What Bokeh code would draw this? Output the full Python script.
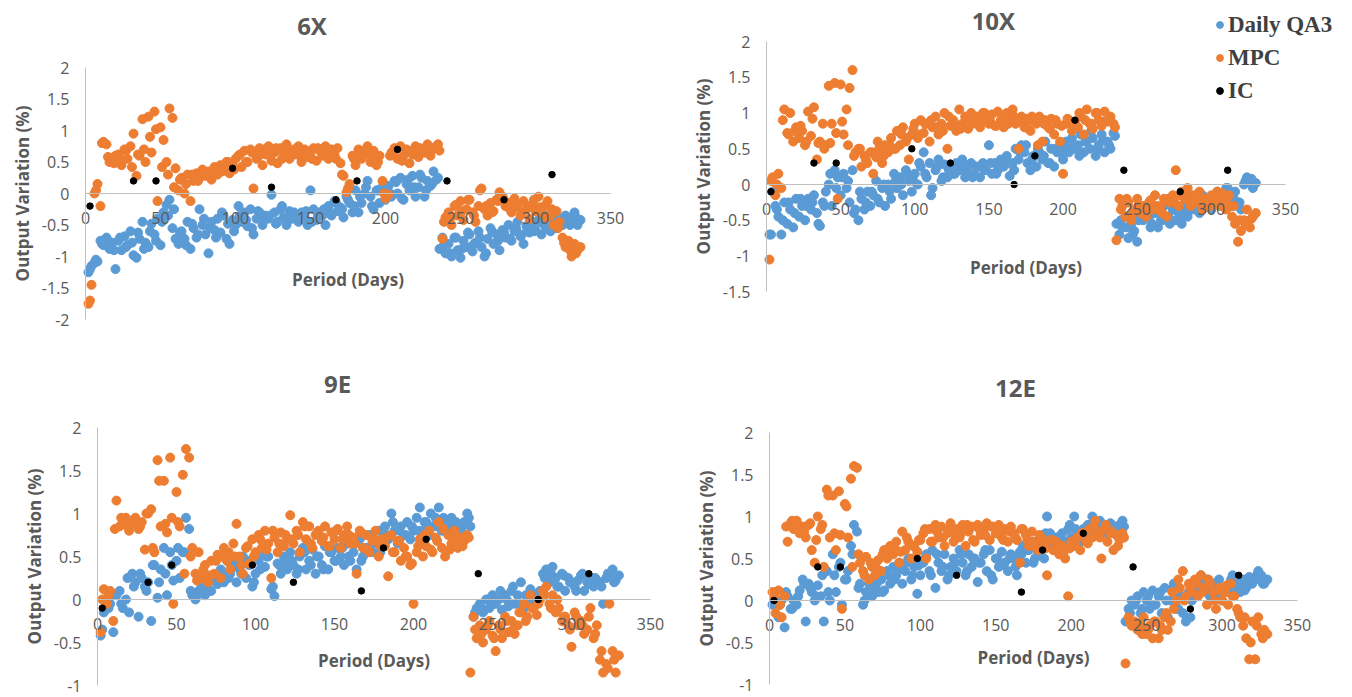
from bokeh.plotting import figure
from bokeh.models import Range1d, FixedTicker, PrintfTickFormatter, Label, Legend, LegendItem
from bokeh.layouts import row, column
from bokeh.embed import file_html
from bokeh.resources import INLINE

# ---------------- data ----------------
days = [
    2, 4, 6, 8, 10, 12, 14, 16, 18, 20,
    22, 24, 26, 28, 30, 32, 34, 36, 38, 40,
    42, 44, 46, 48, 50, 52, 54, 56, 58, 60,
    62, 64, 66, 68, 70, 72, 74, 76, 78, 80,
    82, 84, 86, 88, 90, 92, 94, 96, 98, 100,
    102, 104, 106, 108, 110, 112, 114, 116, 118, 120,
    122, 124, 126, 128, 130, 132, 134, 136, 138, 140,
    142, 144, 146, 148, 150, 152, 154, 156, 158, 160,
    162, 164, 166, 168, 170, 172, 174, 176, 178, 180,
    182, 184, 186, 188, 190, 192, 194, 196, 198, 200,
    202, 204, 206, 208, 210, 212, 214, 216, 218, 220,
    222, 224, 226, 228, 230, 232, 234, 236, 238, 240,
    242, 244, 246, 248, 250, 252, 254, 256, 258, 260,
    262, 264, 266, 268, 270, 272, 274, 276, 278, 280,
    282, 284, 286, 288, 290, 292, 294, 296, 298, 300,
    302, 304, 306, 308, 310, 312, 314, 316, 318, 320,
    322, 324, 326, 328, 330]

# second reading on the days in between
days_b = [
    3, 7, 11, 15, 19, 23, 27, 31, 35, 39,
    43, 47, 51, 55, 59, 63, 67, 71, 75, 79,
    83, 87, 91, 95, 99, 103, 107, 111, 115, 119,
    123, 127, 131, 135, 139, 143, 147, 151, 155, 159,
    163, 167, 171, 175, 179, 183, 187, 191, 195, 199,
    203, 207, 211, 215, 219, 223, 227, 231, 235, 239,
    243, 247, 251, 255, 259, 263, 267, 271, 275, 279,
    283, 287, 291, 295, 299, 303, 307, 311, 315, 319,
    323, 327]

ic_days = [3, 32, 47, 98, 124, 167, 181, 208, 241, 279, 311]

# ---- 6X ----
qa3_6x = [
    -1.25, -1.15, -1.1, -1.08, -0.75, -0.82, -0.7, -0.88, -0.78, -1.2,
    -0.75, -0.9, -0.68, -0.82, -0.6, -0.98, -1.02, -0.72, -0.45, -0.78,
    -0.85, -0.48, -0.65, -0.4, -0.82, -0.3, -0.18, -0.1, -0.55, -0.72,
    -0.8, -0.6, -0.72, -0.45, -0.88, -0.55, -0.7, -0.25, -0.5, -0.65,
    -0.95, -0.45, -0.58, -0.4, -0.62, -0.35, -0.72, -0.8, -0.42, -0.5,
    -0.2, -0.45, -0.3, -0.52, -0.25, -0.65, -0.4, -0.3, -0.5, -0.35,
    -0.4, -0.02, -0.3, -0.45, -0.25, -0.38, -0.5, -0.28, -0.4, -0.33,
    -0.45, -0.3, -0.38, -0.5, 0.05, -0.25, -0.42, -0.3, -0.35, -0.5,
    -0.2, -0.35, -0.12, -0.28, -0.22, -0.38, -0.05, -0.15, -0.3, 0.05,
    -0.3, -0.15, 0.0, 0.2, -0.05, -0.25, 0.05, -0.15, 0.1, -0.1,
    0.12, -0.05, 0.2, 0.0, 0.25, -0.1, 0.15, 0.05, 0.28, -0.05,
    0.1, 0.25, -0.05, 0.2, 0.12, 0.35, 0.22, -0.88, -0.7, -0.95,
    -0.8, -1.0, -0.7, -0.9, -1.02, -0.75, -0.85, -0.65, -0.92, -0.78,
    -0.6, -0.85, -1.0, -0.72, -0.55, -0.8, -0.65, -0.9, -0.58, -0.7,
    -0.5, -0.75, -0.6, -0.45, -0.68, -0.8, -0.52, -0.62, -0.45, -0.58,
    -0.42, -0.65, -0.5, -0.35, -0.6, -0.45, -0.55, -0.4, -0.5, -0.35,
    -0.45, -0.4, -0.3, -0.5, -0.42]
qa3_6x_b = [
    -1.2, -1.05, -0.8, -0.75, -0.9, -0.7, -0.85, -0.78, -0.62, -0.88,
    -0.6, -0.75, -0.45, -0.35, -0.25, -0.62, -0.82, -0.48, -0.65, -0.4,
    -0.55, -0.7, -0.3, -0.48, -0.6, -0.35, -0.42, -0.55, -0.28, -0.38,
    -0.35, -0.48, -0.2, -0.42, -0.3, -0.4, -0.28, -0.45, -0.35, -0.25,
    -0.3, -0.15, -0.25, -0.1, -0.2, -0.05, 0.1, -0.2, 0.05, 0.15,
    0.0, 0.18, -0.08, 0.22, 0.1, 0.3, 0.05, 0.15, 0.25, -0.82,
    -0.95, -0.7, -0.88, -0.62, -0.8, -0.7, -0.95, -0.6, -0.75, -0.62,
    -0.72, -0.55, -0.65, -0.5, -0.6, -0.45, -0.55, -0.4, -0.48, -0.42,
    -0.5, -0.38]

mpc_6x = [
    -1.75, -1.45, 0.0, 0.15, -0.2, 0.82, 0.78, 0.5, 0.55, 0.6,
    0.62, 0.45, 0.7, 0.55, 0.75, 0.95, 0.28, 0.6, 1.18, 0.5,
    1.22, 0.65, 1.3, -0.12, 1.05, 0.85, 0.5, 1.35, 1.2, 0.4,
    0.05, 0.25, 0.0, 0.3, -0.12, 0.2, 0.32, 0.25, 0.38, 0.28,
    0.35, 0.22, 0.42, 0.3, 0.45, 0.38, 0.5, 0.32, 0.45, 0.55,
    0.6, 0.42, 0.68, 0.5, 0.7, 0.08, 0.55, 0.72, 0.45, 0.62,
    0.75, 0.52, 0.65, 0.48, 0.72, 0.6, 0.78, 0.55, 0.68, 0.62,
    0.75, 0.5, 0.7, 0.58, 0.65, 0.72, 0.52, 0.68, 0.6, 0.75,
    0.55, 0.7, 0.62, 0.72, 0.48, 0.28, 0.02, 0.15, 0.6, 0.45,
    0.7, 0.55, 0.62, 0.75, 0.5, 0.68, 0.45, 0.6, 0.2, -0.08,
    -0.02, 0.65, 0.72, 0.55, 0.75, 0.6, 0.7, 0.48, 0.62, 0.75,
    0.58, 0.7, 0.65, 0.78, 0.6, 0.72, 0.75, 0.68, -0.72, -0.38,
    -0.3, -0.5, -0.2, -0.35, -0.12, -0.42, -0.25, -0.1, -0.3, -0.45,
    -0.2, 0.08, -0.25, -0.35, -0.15, -0.28, -0.1, 0.02, -0.05, -0.2,
    -0.15, -0.3, -0.08, -0.22, -0.35, -0.12, -0.25, -0.4, -0.18, -0.28,
    -0.05, -0.3, -0.2, -0.12, -0.35, -0.5, -0.28, -0.45, -0.7, -0.85,
    -0.75, -1.0, -0.8, -0.9, -0.85]
mpc_6x_b = [
    -1.7, 0.05, 0.8, 0.58, 0.48, 0.55, 0.68, 0.42, 0.62, 0.7,
    0.9, 1.02, 0.42, 0.3, 0.1, 0.22, 0.15, 0.3, 0.2, 0.35,
    0.28, 0.4, 0.35, 0.5, 0.38, 0.62, 0.5, 0.65, 0.58, 0.7,
    0.6, 0.72, 0.55, 0.65, 0.7, 0.6, 0.68, 0.55, 0.72, 0.62,
    0.65, 0.55, 0.3, 0.08, 0.55, 0.62, 0.7, 0.58, 0.5, 0.0,
    0.6, 0.7, 0.52, 0.68, 0.62, 0.72, 0.65, 0.7, 0.78, -0.45,
    -0.4, -0.18, -0.28, -0.1, -0.35, 0.05, -0.2, -0.3, -0.12, -0.1,
    -0.25, -0.15, -0.3, -0.2, -0.1, -0.22, -0.38, -0.25, -0.55, -0.78,
    -0.9, -0.95]

ic_6x = [-0.2, 0.2, 0.2, 0.4, 0.1, -0.1, 0.2, 0.7, 0.2, -0.1, 0.3]

# ---- 10X ----
qa3_10x = [
    -0.7, -0.1, -0.3, -0.45, -0.7, -0.25, -0.55, -0.35, -0.6, -0.2,
    -0.45, -0.3, -0.5, -0.2, -0.35, -0.15, -0.4, -0.58, -0.25, -0.1,
    0.0, -0.3, 0.2, 0.1, -0.15, 0.15, -0.05, -0.25, 0.2, -0.35,
    -0.5, -0.2, -0.35, -0.1, -0.3, -0.15, 0.05, -0.25, -0.05, -0.3,
    0.0, -0.2, 0.15, -0.05, 0.1, -0.15, 0.2, 0.05, -0.1, 0.15,
    0.0, 0.25, 0.45, 0.1, 0.3, -0.05, 0.2, 0.35, 0.05, 0.28,
    0.1, 0.25, 0.15, 0.3, 0.2, 0.35, 0.1, 0.25, 0.3, 0.15,
    0.25, 0.1, 0.3, 0.2, 0.55, 0.15, 0.3, 0.2, 0.35, 0.25,
    0.4, 0.12, 0.3, 0.5, 0.35, 0.55, 0.45, 0.3, 0.2, 0.4,
    0.25, 0.45, 0.35, 0.6, 0.3, 0.5, 0.25, 0.45, 0.55, 0.35,
    0.6, 0.45, 0.65, 0.5, 0.55, 0.7, 0.45, 0.6, 0.5, 0.65,
    0.4, 0.55, 0.7, 0.45, 0.6, 0.5, 0.72, -0.55, -0.7, -0.6,
    -0.45, -0.75, -0.55, -0.65, -0.8, -0.4, -0.5, -0.35, -0.45, -0.55,
    -0.4, -0.6, -0.5, -0.3, -0.45, -0.55, -0.35, -0.5, -0.4, -0.55,
    -0.3, -0.45, -0.2, -0.35, -0.25, -0.4, -0.15, -0.3, -0.2, -0.35,
    -0.25, -0.1, -0.3, -0.2, -0.05, -0.15, -0.3, -0.1, -0.25, -0.35,
    0.0, 0.1, 0.05, -0.05, 0.02]
qa3_10x_b = [
    -0.7, -0.35, -0.5, -0.25, -0.4, -0.2, -0.3, -0.25, -0.55, -0.3,
    0.15, -0.05, 0.1, 0.05, -0.4, -0.1, -0.25, -0.1, -0.2, 0.0,
    -0.1, 0.05, 0.0, 0.15, 0.05, 0.3, 0.15, -0.15, 0.25, 0.1,
    0.2, 0.15, 0.3, 0.2, 0.1, 0.25, 0.2, 0.3, 0.15, 0.3,
    0.3, 0.2, 0.45, 0.55, 0.35, 0.5, 0.4, 0.3, 0.5, 0.45,
    0.5, 0.55, 0.4, 0.6, 0.75, 0.5, 0.62, 0.55, 0.68, -0.5,
    -0.6, -0.7, -0.5, -0.45, -0.6, -0.35, -0.5, -0.45, -0.35, -0.5,
    -0.4, -0.25, -0.35, -0.2, -0.3, -0.15, -0.25, -0.05, -0.2, -0.25,
    0.05, 0.08]

mpc_10x = [
    -1.05, 0.1, -0.15, 0.15, -0.05, 1.05, 0.72, 1.0, 0.6, 0.8,
    0.65, 0.75, 0.55, 1.02, 0.68, 1.08, 0.35, 0.6, 0.85, 0.55,
    1.38, 0.85, 1.42, -0.2, 1.4, 0.7, 1.05, 1.35, 1.6, 0.45,
    0.5, 0.25, 0.4, 0.3, 0.45, 0.15, 0.38, 0.5, 0.3, 0.55,
    0.45, 0.65, 0.5, 0.75, 0.55, 0.8, 0.6, 0.35, 0.7, 0.85,
    0.65, 0.9, 0.72, 0.85, 0.6, 0.8, 0.95, 0.7, 0.85, 1.0,
    0.5, 0.82, 0.9, 0.75, 1.05, 0.85, 0.95, 0.78, 1.0, 0.88,
    0.95, 0.8, 1.0, 0.9, 0.85, 0.98, 0.82, 1.02, 0.9, 0.8,
    1.0, 0.9, 1.05, 0.85, 0.5, 0.95, 0.8, 0.92, 0.75, 0.88,
    0.85, 0.95, 0.6, 0.9, 0.8, 0.92, 0.7, 0.85, 0.6, 0.15,
    0.85, 0.9, 0.75, 0.88, 0.8, 0.95, 0.7, 1.05, 0.85, 0.78,
    1.0, 0.9, 0.82, 1.02, 0.88, 0.95, 0.85, -0.78, -0.2, -0.3,
    -0.45, -0.25, -0.5, -0.35, -0.2, -0.4, -0.3, -0.45, -0.25, -0.35,
    -0.15, -0.35, -0.3, -0.2, -0.45, -0.25, -0.15, 0.2, -0.3, -0.1,
    -0.2, -0.05, -0.3, -0.15, -0.25, -0.1, -0.35, -0.2, -0.3, -0.15,
    -0.25, -0.1, -0.3, -0.2, -0.35, -0.15, -0.45, -0.55, -0.8, -0.65,
    -0.5, -0.35, -0.6, -0.45, -0.4]
mpc_10x_b = [
    0.05, 0.0, 0.9, 0.7, 0.75, 0.82, 0.6, 0.92, 0.58, 0.5,
    0.58, 0.72, 0.88, 0.55, 0.4, 0.5, 0.35, 0.45, 0.6, 0.4,
    0.55, 0.5, 0.7, 0.65, 0.78, 0.7, 0.85, 0.9, 0.8, 0.75,
    0.95, 0.85, 0.78, 0.92, 0.85, 0.9, 1.0, 0.88, 0.82, 0.95,
    0.85, 0.95, 0.88, 0.8, 0.95, 0.55, 0.85, 0.78, 0.9, 0.82,
    0.92, 0.8, 1.0, 0.9, 0.85, 1.0, 0.88, 0.92, 0.8, -0.35,
    -0.2, -0.4, -0.3, -0.38, -0.22, -0.3, -0.4, -0.2, -0.25, -0.15,
    -0.1, -0.25, -0.15, -0.22, -0.3, -0.2, -0.12, -0.28, -0.3, -0.5,
    -0.55, -0.48]

ic_10x = [-0.1, 0.3, 0.3, 0.5, 0.3, 0.0, 0.4, 0.9, 0.2, -0.1, 0.2]

# ---- 9E ----
qa3_9e = [
    -0.42, -0.15, 0.0, -0.05, -0.38, 0.05, 0.1, -0.1, 0.0, -0.15,
    0.3, 0.2, -0.2, 0.25, 0.15, 0.2, -0.25, 0.4, 0.02, 0.35,
    0.6, 0.05, 0.55, 0.22, 0.45, 0.25, 0.55, 0.95, 0.82, 0.05,
    0.0, 0.1, 0.15, 0.05, 0.2, 0.1, 0.25, 0.18, 0.35, 0.2,
    0.45, 0.3, 0.4, 0.2, 0.35, 0.5, 0.25, 0.4, 0.15, 0.3,
    0.45, 0.55, 0.38, 0.5, 0.12, 0.04, 0.42, 0.3, 0.5, 0.35,
    0.55, 0.4, 0.3, 0.5, 0.6, 0.35, 0.45, 0.58, 0.3, 0.5,
    0.4, 0.62, 0.35, 0.55, 0.45, 0.6, 0.5, 0.4, 0.65, 0.45,
    0.55, 0.35, 0.7, 0.5, 0.6, 0.75, 0.55, 0.65, 0.8, 0.6,
    0.85, 0.7, 1.0, 0.8, 0.65, 0.85, 0.75, 0.9, 0.7, 0.8,
    0.95, 1.07, 0.8, 0.9, 0.75, 0.85, 0.95, 1.07, 0.8, 0.9,
    0.85, 0.95, 0.75, 0.88, 0.8, 0.9, 1.0, 0.85, -0.2, -0.1,
    -0.05, -0.15, 0.0, -0.1, 0.05, -0.05, 0.0, -0.12, 0.05, -0.08,
    0.1, -0.05, 0.05, 0.2, -0.1, 0.0, 0.12, -0.05, 0.05, 0.1,
    0.3, 0.35, 0.2, 0.38, 0.25, 0.15, 0.3, 0.1, 0.25, 0.2,
    0.15, 0.22, 0.28, 0.1, 0.2, 0.25, 0.15, 0.22, 0.2, -0.05,
    0.25, 0.3, 0.35, 0.22, 0.28]
qa3_9e_b = [
    -0.35, -0.1, 0.05, -0.05, 0.25, 0.15, 0.3, 0.1, 0.4, 0.2,
    0.3, 0.4, 0.6, 0.55, 0.1, 0.05, 0.15, 0.1, 0.2, 0.3,
    0.25, 0.4, 0.3, 0.45, 0.2, 0.35, 0.5, 0.15, 0.4, 0.45,
    0.45, 0.35, 0.55, 0.4, 0.5, 0.35, 0.55, 0.45, 0.6, 0.5,
    0.65, 0.45, 0.6, 0.7, 0.55, 0.75, 0.9, 0.8, 0.75, 0.85,
    0.8, 0.9, 1.0, 0.85, 0.95, 0.8, 0.9, 0.85, 0.95, -0.15,
    -0.1, 0.0, -0.05, 0.1, 0.0, 0.15, -0.05, 0.05, 0.0, 0.05,
    0.25, 0.3, 0.15, 0.28, 0.2, 0.1, 0.3, 0.18, 0.25, 0.15,
    0.3, 0.2]

mpc_9e = [
    -0.38, 0.12, -0.05, 0.1, -0.25, 1.15, 0.85, 0.9, 0.95, 0.8,
    0.88, 0.95, 0.82, 0.9, 0.58, 1.0, 1.05, 0.55, 1.62, 0.85,
    1.38, 0.78, 1.65, -0.05, 1.25, 0.85, 1.45, 1.75, 1.65, 0.6,
    0.3, 0.55, 0.25, 0.4, 0.2, 0.45, 0.3, 0.52, 0.25, 0.6,
    0.45, 0.35, 0.65, 0.88, 0.5, 0.3, 0.6, 0.42, 0.7, 0.55,
    0.75, 0.6, 0.8, 0.65, 0.25, 0.72, 0.55, 0.78, 0.62, 0.7,
    0.98, 0.65, 0.8, 0.55, 0.9, 0.7, 0.85, 0.6, 0.75, 0.8,
    0.68, 0.85, 0.62, 0.78, 0.7, 0.82, 0.6, 0.75, 0.85, 0.65,
    0.72, 0.3, 0.8, 0.6, 0.75, 0.55, 0.68, 0.8, 0.5, 0.7,
    0.62, 0.27, 0.75, 0.55, 0.68, 0.45, 0.6, 0.5, 0.4, -0.05,
    0.55, 0.7, 0.5, 0.62, 0.8, 0.55, 0.72, 0.9, 0.6, 0.5,
    0.75, 0.65, 0.8, 0.6, 0.72, 0.68, 0.75, -0.85, -0.2, -0.45,
    -0.3, -0.5, -0.35, -0.25, -0.42, -0.6, -0.3, -0.45, -0.2, -0.38,
    -0.25, -0.4, -0.3, -0.15, -0.05, -0.2, 0.05, -0.1, -0.18, 0.0,
    0.1, 0.15, -0.05, 0.05, -0.15, -0.1, -0.25, -0.2, -0.3, -0.55,
    -0.15, -0.3, -0.25, -0.4, -0.35, -0.1, -0.45, -0.3, -0.7, -0.85,
    -0.75, -0.05, -0.6, -0.85, -0.65]
mpc_9e_b = [
    0.0, 0.05, 0.82, 0.95, 0.85, 0.92, 0.85, 1.0, 0.6, 1.38,
    0.88, 0.95, 0.9, 0.3, 0.5, 0.22, 0.35, 0.28, 0.45, 0.5,
    0.55, 0.5, 0.4, 0.62, 0.5, 0.7, 0.58, 0.8, 0.65, 0.75,
    0.7, 0.75, 0.85, 0.65, 0.78, 0.72, 0.62, 0.8, 0.7, 0.75,
    0.65, 0.78, 0.58, 0.7, 0.62, 0.72, 0.55, 0.68, 0.5, 0.42,
    0.62, 0.75, 0.58, 0.68, 0.82, 0.58, 0.7, 0.62, 0.72, -0.35,
    -0.4, -0.3, -0.45, -0.35, -0.25, -0.35, -0.15, -0.25, -0.1, -0.05,
    0.05, -0.1, 0.0, -0.2, -0.35, -0.2, -0.3, -0.2, -0.4, -0.6,
    -0.8, -0.7]

ic_9e = [-0.1, 0.2, 0.4, 0.4, 0.2, 0.1, 0.6, 0.7, 0.3, 0.0, 0.3]

# ---- 12E ----
qa3_12e = [
    -0.05, 0.1, -0.2, 0.0, -0.32, 0.05, -0.1, 0.0, -0.05, 0.12,
    0.25, -0.25, 0.2, 0.1, 0.0, 0.18, 0.05, -0.25, 0.35, 0.0,
    0.55, 0.1, 0.4, -0.05, 0.25, 0.35, 0.65, 0.9, 0.82, 0.2,
    -0.05, 0.1, 0.2, 0.05, 0.15, 0.1, 0.25, 0.12, 0.35, 0.2,
    0.4, 0.3, 0.45, 0.2, 0.35, 0.5, 0.25, 0.4, 0.08, 0.3,
    0.45, 0.55, 0.35, 0.6, 0.15, 0.45, 0.35, 0.55, 0.25, 0.4,
    0.5, 0.35, 0.6, 0.45, 0.3, 0.55, 0.4, 0.5, 0.22, 0.45,
    0.55, 0.35, 0.6, 0.25, 0.5, 0.4, 0.58, 0.45, 0.35, 0.55,
    0.5, 0.3, 0.58, 0.65, 0.45, 0.6, 0.7, 0.5, 0.55, 0.65,
    0.5, 1.0, 0.8, 0.65, 0.75, 0.6, 0.8, 0.7, 0.85, 0.75,
    1.0, 0.8, 0.7, 0.85, 0.75, 0.9, 1.0, 0.8, 0.9, 0.85,
    0.9, 0.8, 0.92, 0.85, 0.78, 0.9, 0.95, -0.25, -0.1, 0.0,
    -0.05, 0.05, -0.15, 0.1, 0.0, -0.1, 0.12, -0.05, 0.05, -0.15,
    0.15, -0.2, 0.0, 0.2, -0.1, 0.05, -0.15, -0.25, 0.1, 0.0,
    0.2, 0.1, 0.3, 0.15, 0.25, 0.05, 0.2, 0.1, 0.25, 0.0,
    0.15, 0.1, 0.25, 0.15, 0.2, 0.1, 0.25, 0.15, 0.28, 0.2,
    0.25, 0.35, 0.3, 0.2, 0.25]
qa3_12e_b = [
    0.0, -0.05, 0.1, -0.1, 0.05, 0.2, 0.15, 0.05, 0.3, 0.1,
    0.3, 0.45, 0.25, 0.55, 0.15, 0.0, 0.12, 0.2, 0.1, 0.3,
    0.25, 0.38, 0.45, 0.3, 0.42, 0.5, 0.3, 0.55, 0.4, 0.3,
    0.45, 0.55, 0.35, 0.5, 0.45, 0.6, 0.3, 0.5, 0.42, 0.5,
    0.4, 0.55, 0.6, 0.45, 0.55, 0.8, 0.65, 0.75, 0.7, 0.9,
    0.85, 0.75, 0.9, 0.8, 0.95, 0.85, 0.9, 0.8, 0.88, -0.15,
    0.0, -0.1, 0.05, -0.05, 0.1, 0.0, 0.15, -0.1, 0.05, -0.2,
    0.15, 0.25, 0.1, 0.2, 0.05, 0.15, 0.3, 0.2, 0.12, 0.22,
    0.3, 0.2]

mpc_12e = [
    0.1, -0.15, 0.12, -0.2, 0.05, 0.7, 0.92, 0.85, 0.95, 0.8,
    0.88, 0.75, 0.9, 0.6, 0.45, 1.0, 0.85, 0.4, 1.32, 0.75,
    1.25, 0.6, 1.3, -0.1, 1.15, 0.75, 1.45, 1.6, 1.58, 0.45,
    0.35, 0.52, 0.25, 0.4, 0.3, 0.48, 0.35, 0.6, 0.5, 0.65,
    0.55, 0.7, 0.45, 0.82, 0.6, 0.7, 0.5, 0.65, 0.58, 0.72,
    0.8, 0.5, 0.85, 0.7, 0.9, 0.75, 0.88, 0.65, 0.8, 0.92,
    0.7, 0.85, 0.75, 0.9, 0.65, 0.82, 0.88, 0.7, 0.9, 0.78,
    0.85, 0.92, 0.72, 0.88, 0.8, 0.9, 0.75, 0.85, 0.7, 0.88,
    0.8, 0.72, 0.45, 0.85, 0.78, 0.65, 0.82, 0.7, 0.6, 0.75,
    0.68, 0.3, 0.72, 0.6, 0.7, 0.55, 0.65, 0.5, 0.05, 0.7,
    0.65, 0.75, 0.6, 0.8, 0.7, 0.85, 0.75, 0.95, 0.8, 0.5,
    0.85, 0.7, 0.8, 0.6, 0.78, 0.72, 0.8, -0.75, -0.2, -0.3,
    -0.25, -0.35, -0.3, -0.2, -0.4, -0.3, -0.45, -0.25, -0.45, -0.35,
    -0.2, -0.35, -0.25, -0.1, 0.0, 0.15, 0.35, 0.05, 0.2, 0.1,
    0.25, 0.05, 0.3, 0.15, -0.05, 0.2, 0.1, -0.1, 0.15, 0.0,
    0.1, -0.05, 0.2, 0.05, -0.1, -0.2, -0.3, -0.45, -0.7, -0.25,
    -0.7, -0.2, -0.4, -0.35, -0.4]
mpc_12e_b = [
    0.05, -0.05, 0.88, 0.95, 0.9, 0.82, 0.92, 0.72, 0.9, 1.25,
    0.8, 0.78, 1.12, 0.4, 0.55, 0.3, 0.45, 0.38, 0.55, 0.6,
    0.62, 0.58, 0.75, 0.65, 0.72, 0.85, 0.7, 0.82, 0.75, 0.85,
    0.78, 0.8, 0.9, 0.72, 0.85, 0.78, 0.88, 0.8, 0.72, 0.82,
    0.75, 0.85, 0.72, 0.65, 0.78, 0.62, 0.72, 0.65, 0.58, 0.62,
    0.72, 0.8, 0.68, 0.88, 0.75, 0.9, 0.82, 0.65, 0.75, -0.25,
    -0.3, -0.4, -0.35, -0.25, -0.3, -0.15, 0.1, 0.25, 0.0, 0.15,
    0.2, 0.1, 0.25, 0.0, 0.12, 0.18, 0.05, -0.15, -0.2, -0.5,
    -0.3, -0.45]

ic_12e = [0.0, 0.4, 0.4, 0.5, 0.3, 0.1, 0.6, 0.8, 0.4, -0.1, 0.3]

x_ticks = [0, 50, 100, 150, 200, 250, 300, 350]
y_ticks_6x = [-2, -1.5, -1, -0.5, 0, 0.5, 1, 1.5, 2]
y_ticks_10x = [-1.5, -1, -0.5, 0, 0.5, 1, 1.5, 2]
y_ticks_e = [-1, -0.5, 0, 0.5, 1, 1.5, 2]

series_names = ["Daily QA3", "MPC", "IC"]

# ---------------- styling ----------------
BLUE = "#5B9BD5"
ORANGE = "#ED7D31"
BLACK = "#000000"
GRAY = "#595959"
AXIS = "#BFBFBF"
FONT = "Open Sans"
W, H1, H2 = 675, 348, 349


def panel(title, qa3, mpc, ic, y_lo, y_ticks, w, h, anchors, title_xy,
          xlab_standoff):
    # anchors: pixel positions (inside this figure) of x=0, x=350, y=0, y=2
    x0, x350, y0, y2 = anchors
    sx = (x350 - x0) / 350.0
    sy = (y0 - y2) / 2.0
    p = figure(width=w, height=h, output_backend="svg", toolbar_location=None,
               x_range=Range1d(-x0 / sx, (w - x0) / sx),
               y_range=Range1d((y0 - h) / sy, y0 / sy),
               min_border=0)
    p.outline_line_color = None
    p.xgrid.visible = False
    p.ygrid.visible = False
    p.background_fill_color = "white"
    p.border_fill_color = "white"

    r1 = p.scatter(days + days_b, qa3, size=9, color=BLUE)
    r2 = p.scatter(days + days_b, mpc, size=9, color=ORANGE)
    r3 = p.scatter(ic_days, ic, size=6.5, color=BLACK)

    # x axis crossing at y = 0
    xa = p.xaxis[0]
    xa.fixed_location = 0
    xa.bounds = (0, 350)
    xa.ticker = FixedTicker(ticks=x_ticks)
    xa.axis_line_color = AXIS
    xa.major_tick_out = 0
    xa.major_tick_in = 0
    xa.minor_tick_out = 0
    xa.minor_tick_in = 0
    xa.major_label_standoff = 18
    xa.major_label_text_font = FONT
    xa.major_label_text_font_size = "16px"
    xa.major_label_text_color = GRAY
    xa.axis_label = "Period (Days)"
    xa.axis_label_standoff = xlab_standoff
    xa.axis_label_text_font = FONT
    xa.axis_label_text_font_style = "bold"
    xa.axis_label_text_font_size = "17px"
    xa.axis_label_text_color = GRAY

    # y axis crossing at x = 0
    ya = p.yaxis[0]
    ya.fixed_location = 0
    ya.bounds = (y_lo, 2)
    ya.ticker = FixedTicker(ticks=y_ticks)
    ya.formatter = PrintfTickFormatter(format="%g")
    ya.axis_line_color = AXIS
    ya.major_tick_out = 0
    ya.major_tick_in = 0
    ya.minor_tick_out = 0
    ya.minor_tick_in = 0
    ya.major_label_standoff = 16
    ya.major_label_text_font = FONT
    ya.major_label_text_font_size = "16px"
    ya.major_label_text_color = GRAY
    ya.axis_label = "Output Variation (%)"
    ya.axis_label_standoff = 5
    ya.axis_label_text_font = FONT
    ya.axis_label_text_font_style = "bold"
    ya.axis_label_text_font_size = "17px"
    ya.axis_label_text_color = GRAY

    p.add_layout(Label(x=title_xy[0], y=title_xy[1], text=title,
                       text_font=FONT, text_font_style="bold",
                       text_font_size="24px", text_color=GRAY,
                       text_align="center", text_baseline="middle"))
    return p, (r1, r2, r3)


p6x, _ = panel("6X", qa3_6x + qa3_6x_b, mpc_6x + mpc_6x_b, ic_6x, -2, y_ticks_6x,
               W, H1, (85, 610, 193, 67), (151, 2.67), 41)
p10x, rr = panel("10X", qa3_10x + qa3_10x_b, mpc_10x + mpc_10x_b, ic_10x, -1.5,
                 y_ticks_10x, W, H1, (91, 610, 184, 41), (153, 2.29), 38)
p9e, _ = panel("9E", qa3_9e + qa3_9e_b, mpc_9e + mpc_9e_b, ic_9e, -1, y_ticks_e,
               W, H2, (97, 650, 251, 79), (152, 2.51), 16)
p12e, _ = panel("12E", qa3_12e + qa3_12e_b, mpc_12e + mpc_12e_b, ic_12e, -1,
                y_ticks_e, W, H2, (94, 622, 252, 84), (163, 2.54), 12)

legend = Legend(items=[LegendItem(label=n, renderers=[r]) for n, r in zip(series_names, rr)],
                location=(536, 244), orientation="vertical",
                label_text_font="Liberation Serif", label_text_font_style="bold",
                label_text_font_size="23px", label_text_color="#404040",
                glyph_width=17, glyph_height=17, label_height=27,
                label_standoff=0, spacing=6,
                padding=0, margin=0, border_line_color=None,
                background_fill_alpha=0)
p10x.add_layout(legend)

layout = column(row(p6x, p10x), row(p9e, p12e))

with open("out.html", "w") as f:
    f.write(file_html(layout, INLINE))
